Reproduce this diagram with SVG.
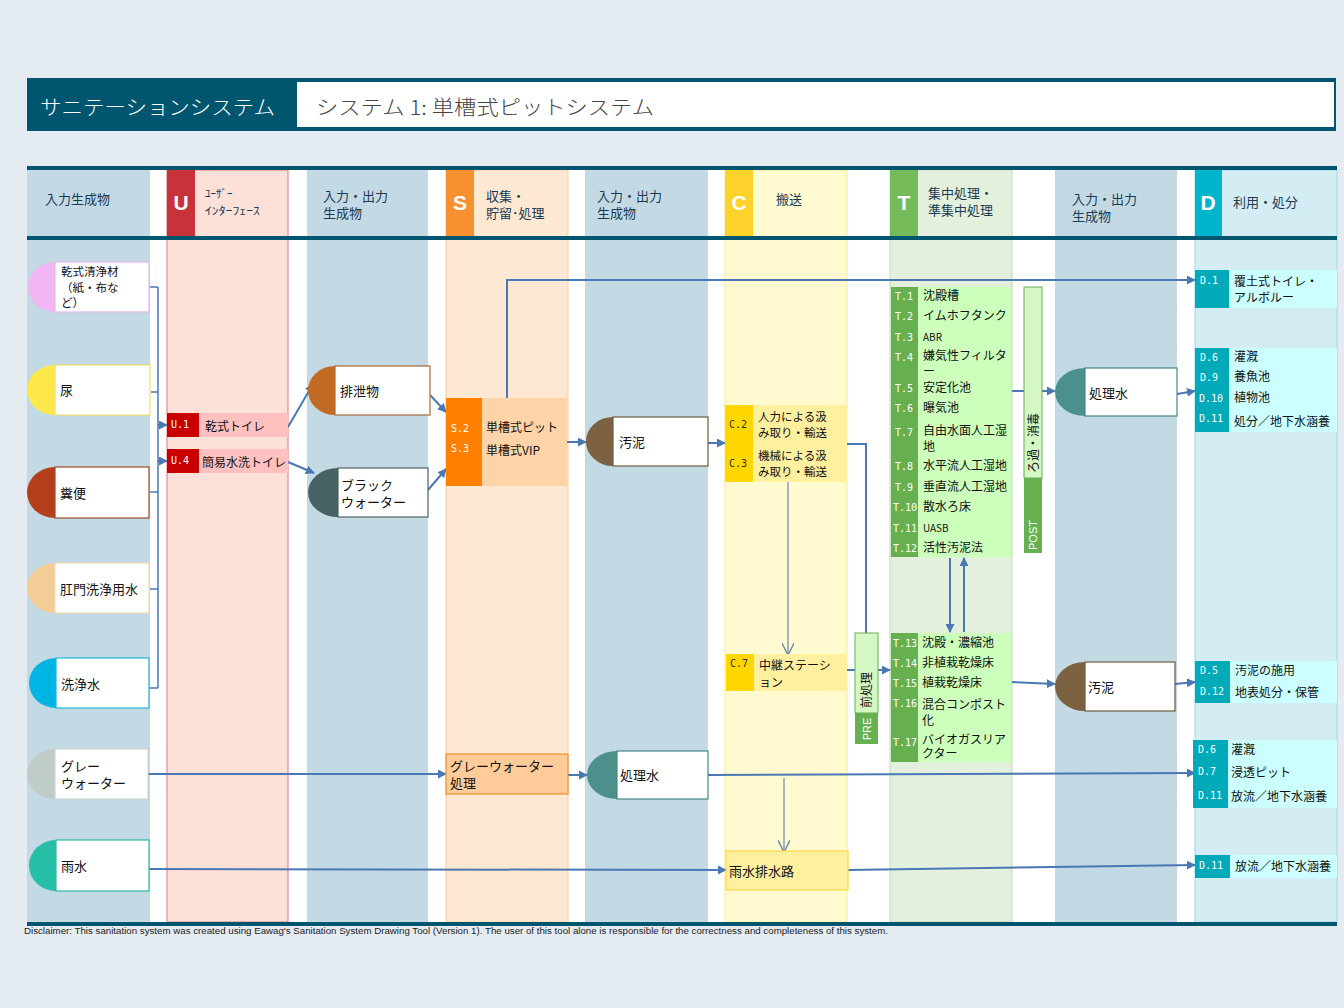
<svg xmlns="http://www.w3.org/2000/svg" width="1344" height="1008" viewBox="0 0 1344 1008">
<defs>
<style>
text{font-family:"Noto Sans CJK JP","Liberation Sans",sans-serif;fill:#111;}
.h{font-size:13px;fill:#1a3a55;}
.n{font-size:13px;}
.s{font-size:12px;}
.w{font-size:11.5px;}
.c{font-family:"DejaVu Sans Mono","Liberation Mono",monospace;font-size:10px;fill:#fff;}
.tab{font-family:"Liberation Sans",sans-serif;font-weight:bold;font-size:21px;fill:#fff;}
.ln{fill:none;stroke:#4a78b4;stroke-width:2;}
.thin{fill:none;stroke:#6a88a8;stroke-width:1.2;}
.nr{fill:#fff;stroke-width:1.2;}
</style>
<marker id="ah" viewBox="0 0 10 10" refX="9" refY="5" markerWidth="9" markerHeight="9" markerUnits="userSpaceOnUse" orient="auto"><path d="M0,0L10,5L0,10z" fill="#4a78b4"/></marker>
<marker id="ov" viewBox="0 0 10 10" refX="9" refY="5" markerWidth="12" markerHeight="12" markerUnits="userSpaceOnUse" orient="auto"><path d="M0,0L10,5L0,10" fill="none" stroke="#6a88a8" stroke-width="1.2"/></marker>
</defs>
<rect width="1344" height="1008" fill="#e4ecf2"/>

<!-- header -->
<g id="header">
<rect x="27" y="78" width="1309" height="53" fill="#00566f"/>
<rect x="297" y="82" width="1037" height="45" fill="#fff"/>
<text x="40" y="115" style="font-size:20px;fill:#fff;font-weight:300" textLength="235" lengthAdjust="spacingAndGlyphs">サニテーションシステム</text>
<text x="316" y="115" style="font-size:20px;fill:#444;font-weight:300" textLength="338" lengthAdjust="spacingAndGlyphs">システム 1: 単槽式ピットシステム</text>
</g>

<!-- table background and columns -->
<g id="columns">
<rect x="27" y="168" width="1310" height="756" fill="#fff"/>
<rect x="27" y="170" width="123" height="752" fill="#c3d9e4"/>
<rect x="167" y="170" width="121" height="752" fill="#fde0d8" stroke="#e0787a" stroke-width="1"/>
<rect x="307" y="170" width="121" height="752" fill="#c3d9e4"/>
<rect x="446" y="170" width="122" height="752" fill="#fee8d2" stroke="#f8cca0" stroke-width="1"/>
<rect x="585" y="170" width="123" height="752" fill="#c3d9e4"/>
<rect x="725" y="170" width="122" height="752" fill="#fffad0" stroke="#fbeb90" stroke-width="1"/>
<rect x="890" y="170" width="122" height="752" fill="#e2f0dc" stroke="#c4dcb4" stroke-width="1"/>
<rect x="1055" y="170" width="122" height="752" fill="#c3d9e4"/>
<rect x="1195" y="170" width="142" height="752" fill="#d4edf4" stroke="#9ed8e8" stroke-width="1"/>
<rect x="167" y="170" width="28" height="66" fill="#c8323a"/>
<rect x="446" y="170" width="28" height="66" fill="#f7902e"/>
<rect x="725" y="170" width="28" height="66" fill="#fdd22a"/>
<rect x="890" y="170" width="28" height="66" fill="#76bb5a"/>
<rect x="1195" y="170" width="27" height="66" fill="#00b4cc"/>
<rect x="27" y="166" width="1310" height="4" fill="#00566f"/>
<rect x="27" y="236" width="1310" height="4" fill="#00566f"/>
<rect x="27" y="922" width="1310" height="4" fill="#00566f"/>
<text class="tab" x="181" y="210" text-anchor="middle">U</text>
<text class="tab" x="460" y="210" text-anchor="middle">S</text>
<text class="tab" x="739" y="210" text-anchor="middle">C</text>
<text class="tab" x="904" y="210" text-anchor="middle">T</text>
<text class="tab" x="1208" y="210" text-anchor="middle">D</text>
<text class="h" x="45" y="204">入力生成物</text>
<text class="h" x="205" y="198" style="font-size:11px">ﾕｰｻﾞｰ</text>
<text class="h" x="205" y="215" style="font-size:11px" textLength="55" lengthAdjust="spacingAndGlyphs">ｲﾝﾀｰﾌｪｰｽ</text>
<text class="h" x="323" y="201">入力・出力</text>
<text class="h" x="323" y="218">生成物</text>
<text class="h" x="486" y="201">収集・</text>
<text class="h" x="486" y="218">貯留･処理</text>
<text class="h" x="597" y="201">入力・出力</text>
<text class="h" x="597" y="218">生成物</text>
<text class="h" x="776" y="204">搬送</text>
<text class="h" x="928" y="198">集中処理・</text>
<text class="h" x="928" y="215">準集中処理</text>
<text class="h" x="1072" y="204">入力・出力</text>
<text class="h" x="1072" y="221">生成物</text>
<text class="h" x="1233" y="207">利用・処分</text>
</g>

<!-- connectors -->
<g id="connectors">
<path class="ln" d="M150,287H158M151,392H158M150,492H158M150,589H158M149,688H158M158,287V688" style="stroke-width:1.5"/>
<path class="ln" d="M158,425H167" marker-end="url(#ah)"/>
<path class="ln" d="M158,461H167" marker-end="url(#ah)"/>
<path class="ln" d="M288,427L313,384" marker-end="url(#ah)"/>
<path class="ln" d="M288,462L314,473" marker-end="url(#ah)"/>
<path class="ln" d="M430,395L446,412" marker-end="url(#ah)"/>
<path class="ln" d="M428,490L446,469" marker-end="url(#ah)"/>
<path class="ln" d="M507,398V280H1195" marker-end="url(#ah)"/>
<path class="ln" d="M567,442H586" marker-end="url(#ah)"/>
<path class="ln" d="M708,443H725" marker-end="url(#ah)"/>
<path class="thin" d="M788,482V654" marker-end="url(#ov)"/>
<path class="ln" d="M847,444H866V633"/>
<path class="ln" d="M847,670H855"/>
<path class="ln" d="M878,670H890" marker-end="url(#ah)"/>
<path class="ln" d="M950,558V632" marker-end="url(#ah)"/>
<path class="ln" d="M964,632V558" marker-end="url(#ah)"/>
<path class="ln" d="M1012,391H1024"/>
<path class="ln" d="M1042,391H1055" marker-end="url(#ah)"/>
<path class="ln" d="M1177,394L1195,391" marker-end="url(#ah)"/>
<path class="ln" d="M1012,682L1055,684" marker-end="url(#ah)"/>
<path class="ln" d="M1175,684L1195,682" marker-end="url(#ah)"/>
<path class="ln" d="M148,774H446" marker-end="url(#ah)"/>
<path class="ln" d="M568,775H587" marker-end="url(#ah)"/>
<path class="ln" d="M708,775L1195,773" marker-end="url(#ah)"/>
<path class="thin" d="M784,778V851" marker-end="url(#ov)"/>
<path class="ln" d="M148,869L726,870" marker-end="url(#ah)"/>
<path class="ln" d="M848,870L1195,865" marker-end="url(#ah)"/>
</g>

<!-- input products -->
<g id="n-kanshiki">
<path d="M55,262A27,25 0 0 0 55,312Z" fill="#f2b6f4"/>
<rect class="nr" x="55" y="262" width="94" height="50" stroke="#e0b8ea"/>
<text class="w" x="61" y="276">乾式清浄材</text>
<text class="w" x="61" y="292">（紙・布な</text>
<text class="w" x="61" y="307">ど）</text>
</g>
<g id="n-nyo">
<path d="M55,365A28,25 0 0 0 55,415Z" fill="#fde84a"/>
<rect class="nr" x="55" y="365" width="95" height="50" stroke="#efe070"/>
<text class="n" x="60" y="395">尿</text>
</g>
<g id="n-funben">
<path d="M55,467A28,25.5 0 0 0 55,518Z" fill="#b3401a"/>
<rect class="nr" x="55" y="467" width="94" height="51" stroke="#9a4a2a"/>
<text class="n" x="60" y="498">糞便</text>
</g>
<g id="n-komon">
<path d="M55,563A28,25 0 0 0 55,613Z" fill="#f3cc96"/>
<rect class="nr" x="55" y="563" width="94" height="50" stroke="#f3dcb8"/>
<text class="n" x="60" y="594">肛門洗浄用水</text>
</g>
<g id="n-senjo">
<path d="M56,658A27,25 0 0 0 56,708Z" fill="#00b4e4"/>
<rect class="nr" x="56" y="658" width="93" height="50" stroke="#20b4d8"/>
<text class="n" x="61" y="689">洗浄水</text>
</g>
<g id="n-gray">
<path d="M55,749A28,25 0 0 0 55,799Z" fill="#bfccc8"/>
<rect class="nr" x="55" y="749" width="93" height="50" stroke="#cdd6d6"/>
<text class="n" x="61" y="771">グレー</text>
<text class="n" x="61" y="788">ウォーター</text>
</g>
<g id="n-usui">
<path d="M56,840A27,25.5 0 0 0 56,891Z" fill="#26bea6"/>
<rect class="nr" x="56" y="840" width="93" height="51" stroke="#30b8a0"/>
<text class="n" x="61" y="871">雨水</text>
</g>

<!-- U -->
<g id="u1">
<rect x="167" y="413" width="32" height="24" fill="#c80000"/>
<rect x="199" y="413" width="89" height="24" fill="#ffc0c0"/>
<text class="c" x="171" y="428">U.1</text>
<text class="s" x="205" y="431">乾式トイレ</text>
</g>
<g id="u4">
<rect x="167" y="449" width="32" height="24" fill="#c80000"/>
<rect x="199" y="449" width="89" height="24" fill="#ffc0c0"/>
<text class="c" x="171" y="464">U.4</text>
<text class="s" x="202" y="467">簡易水洗トイレ</text>
</g>

<!-- col 3 -->
<g id="n-haisetsu">
<path d="M335,366A27,24.5 0 0 0 335,415Z" fill="#c26a24"/>
<rect class="nr" x="335" y="366" width="95" height="49" stroke="#a86a3a"/>
<text class="n" x="340" y="396">排泄物</text>
</g>
<g id="n-black">
<path d="M338,468A30,24.5 0 0 0 338,517Z" fill="#476262"/>
<rect class="nr" x="338" y="468" width="90" height="49" stroke="#4a6262"/>
<text class="n" x="341" y="490">ブラック</text>
<text class="n" x="341" y="507">ウォーター</text>
</g>

<!-- S -->
<g id="s-pit">
<rect x="446" y="398" width="36" height="88" fill="#ff8000"/>
<rect x="482" y="398" width="85" height="88" fill="#fdd4a8"/>
<text class="c" x="451" y="432">S.2</text>
<text class="c" x="451" y="452">S.3</text>
<text class="s" x="486" y="432">単槽式ピット</text>
<text class="s" x="486" y="455">単槽式VIP</text>
</g>
<g id="s-gw">
<rect x="446" y="754" width="122" height="40" fill="#ffcc99" stroke="#f09030" stroke-width="1.2"/>
<text class="n" x="450" y="771">グレーウォーター</text>
<text class="n" x="450" y="788">処理</text>
</g>

<!-- col 5 -->
<g id="n-odei1">
<path d="M613,417A27,24.5 0 0 0 613,466Z" fill="#7c6240"/>
<rect class="nr" x="613" y="417" width="95" height="49" stroke="#6e5a40"/>
<text class="n" x="619" y="447">汚泥</text>
</g>
<g id="n-shorisui1">
<path d="M617,751A30,24 0 0 0 617,799Z" fill="#4c908c"/>
<rect class="nr" x="617" y="751" width="91" height="48" stroke="#4a8484"/>
<text class="n" x="620" y="780">処理水</text>
</g>

<!-- C -->
<g id="c23">
<rect x="725" y="405" width="28" height="77" fill="#ffd700"/>
<rect x="753" y="405" width="94" height="77" fill="#fff0a0"/>
<text class="c" x="729" y="428" style="fill:#333">C.2</text>
<text class="c" x="729" y="467" style="fill:#333">C.3</text>
<text class="w" x="758" y="421">人力による汲</text>
<text class="w" x="758" y="437">み取り・輸送</text>
<text class="w" x="758" y="460">機械による汲</text>
<text class="w" x="758" y="476">み取り・輸送</text>
</g>
<g id="c7">
<rect x="726" y="654" width="28" height="37" fill="#ffd700"/>
<rect x="754" y="654" width="93" height="37" fill="#fff0a0"/>
<text class="c" x="730" y="667" style="fill:#333">C.7</text>
<text class="s" x="759" y="670">中継ステーシ</text>
<text class="s" x="759" y="687">ョン</text>
</g>
<g id="c-usuihaisui">
<rect x="726" y="851" width="122" height="39" fill="#fff0a0" stroke="#ffd84a" stroke-width="1.2"/>
<text class="n" x="729" y="876">雨水排水路</text>
</g>

<!-- PRE -->
<g id="pre">
<rect x="855" y="633" width="23" height="80" fill="#d4f7c4" stroke="#66b050" stroke-width="1"/>
<rect x="855" y="713" width="23" height="31" fill="#66b050"/>
<text class="s" transform="translate(871,690) rotate(-90)" text-anchor="middle">前処理</text>
<text transform="translate(871,729) rotate(-90)" text-anchor="middle" style="font-family:'Liberation Sans',sans-serif;font-size:11px;fill:#fff">PRE</text>
</g>

<!-- T -->
<g id="t-upper">
<rect x="891" y="287" width="27" height="270" fill="#66b050"/>
<rect x="918" y="287" width="93" height="270" fill="#ccffbb"/>
<text class="c" x="895" y="300">T.1</text><text class="s" x="923" y="300">沈殿槽</text>
<text class="c" x="895" y="320">T.2</text><text class="s" x="923" y="320">イムホフタンク</text>
<text class="c" x="895" y="341">T.3</text><text class="s" x="923" y="341" style="font-size:10px">ABR</text>
<text class="c" x="895" y="361">T.4</text><text class="s" x="923" y="360">嫌気性フィルタ</text><text class="s" x="923" y="376">ー</text>
<text class="c" x="895" y="392">T.5</text><text class="s" x="923" y="392">安定化池</text>
<text class="c" x="895" y="412">T.6</text><text class="s" x="923" y="412">曝気池</text>
<text class="c" x="895" y="436">T.7</text><text class="s" x="923" y="435">自由水面人工湿</text><text class="s" x="923" y="451">地</text>
<text class="c" x="895" y="470">T.8</text><text class="s" x="923" y="470">水平流人工湿地</text>
<text class="c" x="895" y="491">T.9</text><text class="s" x="923" y="491">垂直流人工湿地</text>
<text class="c" x="893" y="511">T.10</text><text class="s" x="923" y="511">散水ろ床</text>
<text class="c" x="893" y="532">T.11</text><text class="s" x="923" y="532" style="font-size:10px">UASB</text>
<text class="c" x="893" y="552">T.12</text><text class="s" x="923" y="552">活性汚泥法</text>
</g>
<g id="t-lower">
<rect x="891" y="633" width="27" height="129" fill="#66b050"/>
<rect x="918" y="633" width="93" height="129" fill="#ccffbb"/>
<text class="c" x="893" y="647">T.13</text><text class="s" x="922" y="647">沈殿・濃縮池</text>
<text class="c" x="893" y="667">T.14</text><text class="s" x="922" y="667">非植栽乾燥床</text>
<text class="c" x="893" y="687">T.15</text><text class="s" x="922" y="687">植栽乾燥床</text>
<text class="c" x="893" y="707">T.16</text><text class="s" x="922" y="709">混合コンポスト</text><text class="s" x="922" y="725">化</text>
<text class="c" x="893" y="746">T.17</text><text class="s" x="922" y="744">バイオガスリア</text><text class="s" x="922" y="758">クター</text>
</g>

<!-- POST -->
<g id="post">
<rect x="1024" y="287" width="18" height="191" fill="#d4f7c4" stroke="#66b050" stroke-width="1"/>
<rect x="1024" y="478" width="18" height="75" fill="#66b050"/>
<text class="s" transform="translate(1038,443) rotate(-90)" text-anchor="middle">ろ過・消毒</text>
<text transform="translate(1037,535) rotate(-90)" text-anchor="middle" style="font-family:'Liberation Sans',sans-serif;font-size:11px;fill:#fff">POST</text>
</g>

<!-- col 8 -->
<g id="n-shorisui2">
<path d="M1085,368A30,24 0 0 0 1085,416Z" fill="#4c908c"/>
<rect class="nr" x="1085" y="368" width="92" height="48" stroke="#4a8484"/>
<text class="n" x="1089" y="398">処理水</text>
</g>
<g id="n-odei2">
<path d="M1085,662A30,24.5 0 0 0 1085,711Z" fill="#7c6240"/>
<rect class="nr" x="1085" y="662" width="90" height="49" stroke="#6e5a40"/>
<text class="n" x="1088" y="692">汚泥</text>
</g>

<!-- D -->
<g id="d1">
<rect x="1195" y="270" width="34" height="38" fill="#00aab8"/>
<rect x="1229" y="270" width="108" height="38" fill="#ccffff"/>
<text class="c" x="1200" y="284">D.1</text>
<text class="s" x="1234" y="286">覆土式トイレ・</text>
<text class="s" x="1234" y="302">アルボルー</text>
</g>
<g id="d-water1">
<rect x="1195" y="348" width="34" height="84" fill="#00aab8"/>
<rect x="1229" y="348" width="108" height="84" fill="#ccffff"/>
<text class="c" x="1200" y="361">D.6</text><text class="s" x="1234" y="361">灌漑</text>
<text class="c" x="1200" y="381">D.9</text><text class="s" x="1234" y="381">養魚池</text>
<text class="c" x="1199" y="402">D.10</text><text class="s" x="1234" y="402">植物池</text>
<text class="c" x="1199" y="422">D.11</text><text class="s" x="1234" y="426">処分／地下水涵養</text>
</g>
<g id="d-sludge">
<rect x="1195" y="661" width="35" height="42" fill="#00aab8"/>
<rect x="1230" y="661" width="107" height="42" fill="#ccffff"/>
<text class="c" x="1200" y="674">D.5</text><text class="s" x="1235" y="675">汚泥の施用</text>
<text class="c" x="1200" y="695">D.12</text><text class="s" x="1235" y="697">地表処分・保管</text>
</g>
<g id="d-water2">
<rect x="1193" y="740" width="35" height="68" fill="#00aab8"/>
<rect x="1228" y="740" width="109" height="68" fill="#ccffff"/>
<text class="c" x="1198" y="753">D.6</text><text class="s" x="1231" y="754">灌漑</text>
<text class="c" x="1198" y="775">D.7</text><text class="s" x="1231" y="777">浸透ピット</text>
<text class="c" x="1198" y="799">D.11</text><text class="s" x="1231" y="801">放流／地下水涵養</text>
</g>
<g id="d11">
<rect x="1195" y="855" width="35" height="23" fill="#00aab8"/>
<rect x="1230" y="855" width="107" height="23" fill="#ccffff"/>
<text class="c" x="1199" y="869">D.11</text>
<text class="s" x="1235" y="871">放流／地下水涵養</text>
</g>

<text x="24" y="934" style="font-family:'Liberation Sans',sans-serif;font-size:8.5px;fill:#222" textLength="864" lengthAdjust="spacingAndGlyphs">Disclaimer: This sanitation system was created using Eawag's Sanitation System Drawing Tool (Version 1). The user of this tool alone is responsible for the correctness and completeness of this system.</text>
</svg>
